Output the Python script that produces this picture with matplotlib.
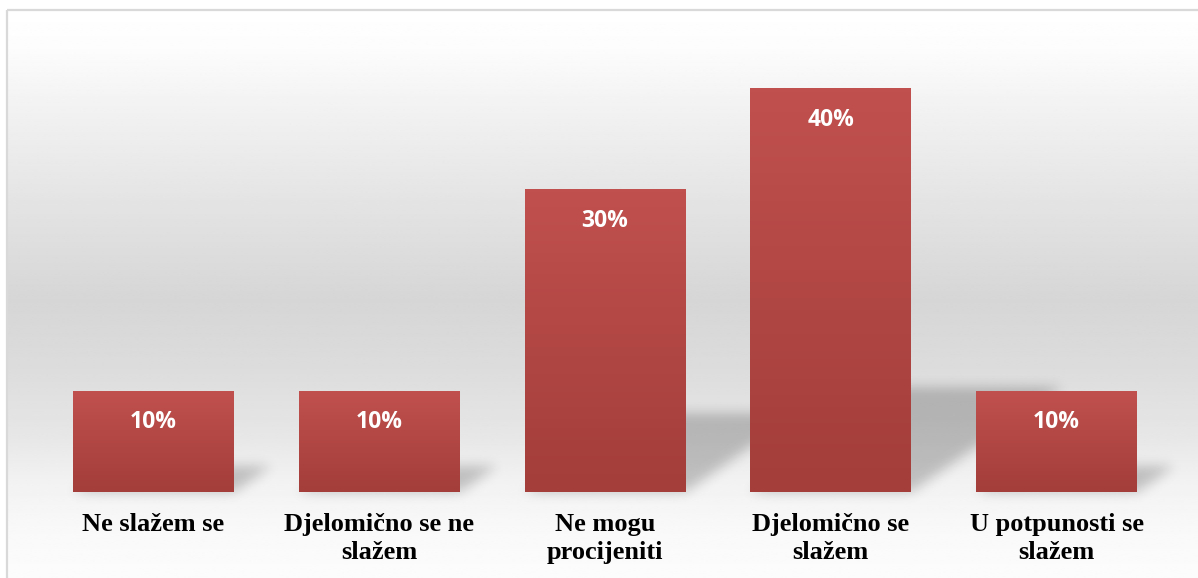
import numpy as np
import matplotlib
matplotlib.use('Agg')
import matplotlib.pyplot as plt
from matplotlib.colors import LinearSegmentedColormap
from matplotlib.patches import Rectangle

categories = ['Ne slažem se', 'Djelomično se ne\nslažem', 'Ne mogu\nprocijeniti',
              'Djelomično se\nslažem', 'U potpunosti se\nslažem']
values = [10, 10, 30, 40, 10]
value_labels = ['10%', '10%', '30%', '40%', '10%']

W, H = 1198, 578
fig = plt.figure(figsize=(W / 100, H / 100), dpi=100)

# background layer in pixel coordinates (y down)
bg = fig.add_axes([0, 0, 1, 1], zorder=0)
bg.set_axis_off()

ys = np.linspace(10, H, 300)
stop_y = [10, 50, 100, 200, 300, 367, 433, 483, 533, 578]
stop_v = [255, 252, 243, 228, 214, 220, 230, 242, 249, 252]
shade = np.interp(ys, stop_y, stop_v) / 255.0
grad = np.repeat(shade[:, None], 2, axis=1)
bg.imshow(grad, cmap='gray', vmin=0, vmax=1, extent=[7, W + 2, H, 10],
          aspect='auto', interpolation='bilinear')
bg.add_patch(Rectangle((7, 10), W, H, fill=False, edgecolor='#D9D9D9', lw=1.6))
bg.set_xlim(0, W)
bg.set_ylim(H, 0)

# main chart
ax = fig.add_axes([40.6 / W, (H - 492) / H, 1128.8 / W, 453.6 / H], zorder=1)
ax.patch.set_alpha(0)

bar_cmap = LinearSegmentedColormap.from_list('barred', ['#A33E3B', '#C0504D'])
bar_grad = np.linspace(1, 0, 100)[:, None]

x = np.arange(len(categories))
bars = ax.bar(x, values, width=0.713, color='none', zorder=2)
for b in bars:
    x0 = b.get_x()
    ax.imshow(bar_grad, cmap=bar_cmap, vmin=0, vmax=1, aspect='auto',
              extent=[x0, x0 + b.get_width(), 0, b.get_height()], zorder=2)

ax.set_xlim(-0.5, len(categories) - 0.5)
ax.set_ylim(0, 45)

for xi, v, lbl in zip(x, values, value_labels):
    ax.annotate(lbl, (xi, v), xytext=(0, -31 * 0.72), textcoords='offset points',
                ha='center', va='center', color='white', fontsize=16.5,
                fontweight='bold', family='Open Sans', zorder=3)

ax.set_xticks(x)
ax.set_xticklabels(categories, fontsize=19, fontweight='bold',
                   family='Liberation Serif', linespacing=1.3)
ax.tick_params(axis='x', length=0, pad=15)
ax.set_yticks([])
for s in ax.spines.values():
    s.set_visible(False)

# soft perspective shadows behind the bars
yy, xx = np.mgrid[0:H, 0:W] + 0.5
mask = np.zeros((H, W))
for b in bars:
    p0 = ax.transData.transform((b.get_x(), 0))
    p1 = ax.transData.transform((b.get_x() + b.get_width(), b.get_height()))
    base = H - p0[1]
    sh = 0.26 * (p1[1] - p0[1])
    d = base - yy
    inside = (d >= 0) & (d <= sh) & (xx >= p0[0] + 1.44 * d) & (xx <= p1[0] + 1.44 * d)
    mask[inside] = 1.0

k = np.exp(-0.5 * (np.arange(-18, 19) / 6.0) ** 2)
k /= k.sum()
mask = np.apply_along_axis(lambda r: np.convolve(r, k, mode='same'), 1, mask)
mask = np.apply_along_axis(lambda c: np.convolve(c, k, mode='same'), 0, mask)

rgba = np.zeros((H, W, 4))
rgba[..., 3] = 0.21 * mask
bg.imshow(rgba, extent=[0, W, H, 0], aspect='auto', interpolation='nearest')
bg.set_xlim(0, W)
bg.set_ylim(H, 0)

fig.savefig('out.png', dpi=100)
